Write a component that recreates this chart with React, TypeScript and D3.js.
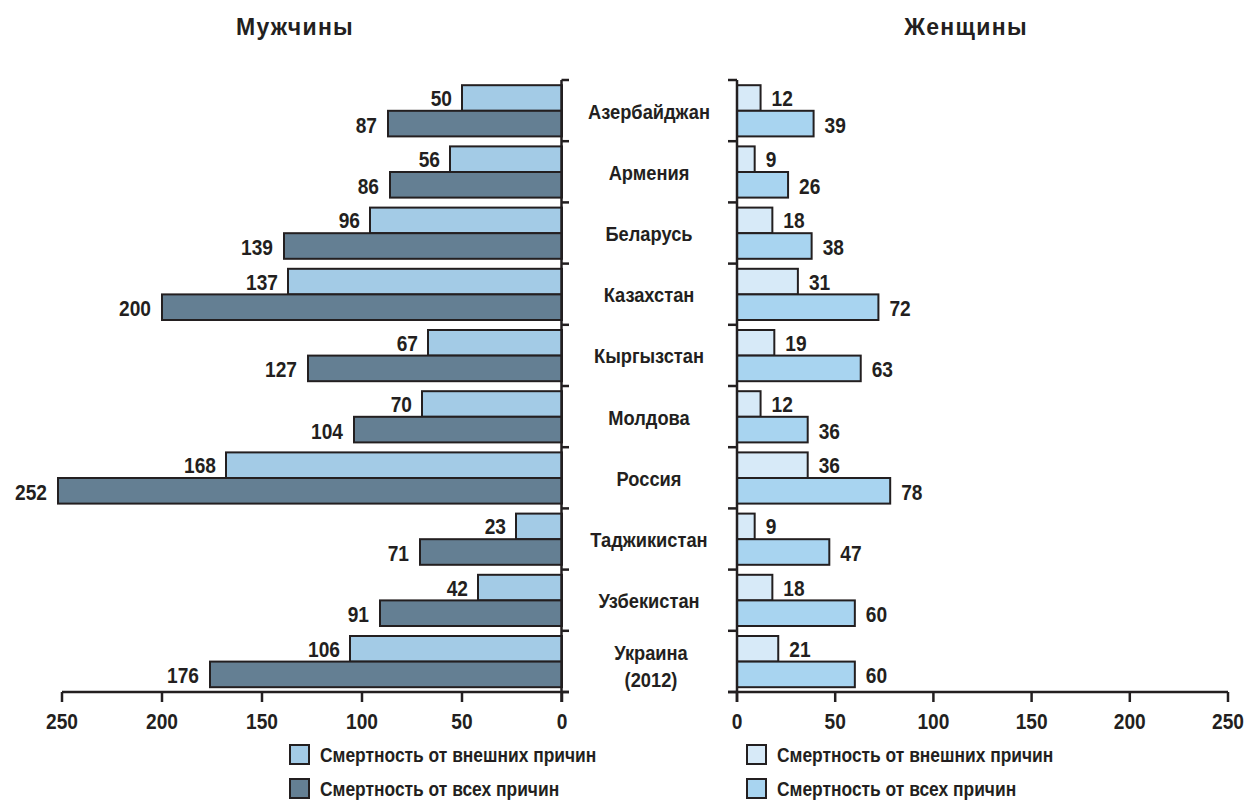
import React from "react";
import * as d3 from "d3";

const countries = [
  "Азербайджан",
  "Армения",
  "Беларусь",
  "Казахстан",
  "Кыргызстан",
  "Молдова",
  "Россия",
  "Таджикистан",
  "Узбекистан",
  "Украина|(2012)",
];
const menExternal = [50, 56, 96, 137, 67, 70, 168, 23, 42, 106];
const menAll = [87, 86, 139, 200, 127, 104, 252, 71, 91, 176];
const womenExternal = [12, 9, 18, 31, 19, 12, 36, 9, 18, 21];
const womenAll = [39, 26, 38, 72, 63, 36, 78, 47, 60, 60];
const ticks = [0, 50, 100, 150, 200, 250];
const titles = ["Мужчины", "Женщины"];
const legendLabels = ["Смертность от внешних причин", "Смертность от всех причин"];

const W = 1245;
const H = 803;
const FONT = "'Liberation Sans', Arial, Helvetica, sans-serif";
const TXT = "#231f20";
const STROKE = "#231f20";
const SX = 0.87;

const menLight = "#a3cbe6";
const menDark = "#647f93";
const womenLight = "#d7eaf8";
const womenDark = "#a8d4f0";

type NProps = {
  x: number;
  y: number;
  size: number;
  anchor?: "start" | "middle" | "end";
  children: React.ReactNode;
};

function NText({ x, y, size, anchor = "start", children }: NProps) {
  return (
    <text
      transform={`translate(${x},${y}) scale(${SX},1)`}
      textAnchor={anchor}
      fontFamily={FONT}
      fontWeight={700}
      fontSize={size}
      fill={TXT}
    >
      {children}
    </text>
  );
}

export default function App() {
  const y = d3.scaleBand<string>().domain(countries).range([80, 692]);
  const bw = y.bandwidth();
  const barH = 25.6;
  const pad = 5.2;
  const xM = d3.scaleLinear().domain([0, 250]).range([562, 62]);
  const xW = d3.scaleLinear().domain([0, 250]).range([737, 1228]);
  const axisY = 692;
  const axisM = 561.5;
  const axisW = 737;
  const boundaries = d3.range(countries.length + 1).map((i) => 80 + i * bw);
  const VS = 22;

  return (
    <svg
      width={W}
      height={H}
      style={{ position: "absolute", left: 0, top: 0, background: "#fff" }}
    >
      <rect x={0} y={0} width={W} height={H} fill="#fff" />
      {/* titles */}
      <text x={295} y={35} textAnchor="middle" fontFamily={FONT} fontWeight={700} fontSize={23} letterSpacing={1.3} fill={TXT}>
        {titles[0]}
      </text>
      <text x={966} y={35} textAnchor="middle" fontFamily={FONT} fontWeight={700} fontSize={23} letterSpacing={1.3} fill={TXT}>
        {titles[1]}
      </text>

      {/* men bars */}
      {countries.map((c, i) => {
        const y0 = (y(c) as number) + pad;
        return (
          <g key={"m" + c}>
            <rect x={xM(menExternal[i])} y={y0} width={xM(0) - xM(menExternal[i])} height={barH} fill={menLight} stroke={STROKE} strokeWidth={2} />
            <rect x={xM(menAll[i])} y={y0 + barH} width={xM(0) - xM(menAll[i])} height={barH} fill={menDark} stroke={STROKE} strokeWidth={2} />
            <NText x={xM(menExternal[i]) - 10} y={y0 + barH / 2 + 8} size={VS} anchor="end">
              {menExternal[i]}
            </NText>
            <NText x={xM(menAll[i]) - 11} y={y0 + barH * 1.5 + 9} size={VS} anchor="end">
              {menAll[i]}
            </NText>
          </g>
        );
      })}

      {/* women bars */}
      {countries.map((c, i) => {
        const y0 = (y(c) as number) + pad;
        return (
          <g key={"w" + c}>
            <rect x={xW(0)} y={y0} width={xW(womenExternal[i]) - xW(0)} height={barH} fill={womenLight} stroke={STROKE} strokeWidth={2} />
            <rect x={xW(0)} y={y0 + barH} width={xW(womenAll[i]) - xW(0)} height={barH} fill={womenDark} stroke={STROKE} strokeWidth={2} />
            <NText x={xW(womenExternal[i]) + 11} y={y0 + barH / 2 + 8} size={VS}>
              {womenExternal[i]}
            </NText>
            <NText x={xW(womenAll[i]) + 11} y={y0 + barH * 1.5 + 9} size={VS}>
              {womenAll[i]}
            </NText>
          </g>
        );
      })}

      {/* country labels */}
      {countries.map((c) => {
        const cy = (y(c) as number) + bw / 2;
        const parts = c.split("|");
        return parts.length === 1 ? (
          <NText key={"c" + c} x={649} y={cy + 8} size={21} anchor="middle">
            {parts[0]}
          </NText>
        ) : (
          <g key={"c" + c}>
            <NText x={651} y={cy - 1} size={21} anchor="middle">
              {parts[0]}
            </NText>
            <NText x={651} y={cy + 26} size={21} anchor="middle">
              {parts[1]}
            </NText>
          </g>
        );
      })}

      {/* men axes */}
      <g stroke={STROKE} strokeWidth={2.5} fill="none">
        <line x1={axisM} y1={80} x2={axisM} y2={axisY + 10} />
        {boundaries.map((b, i) => (
          <line key={"mb" + i} x1={axisM} y1={b} x2={569} y2={b} />
        ))}
        <line x1={xM(250)} y1={axisY} x2={569} y2={axisY} />
        {ticks.map((t) => (
          <line key={"mt" + t} x1={xM(t)} y1={axisY} x2={xM(t)} y2={axisY + 10} />
        ))}
      </g>
      {ticks.map((t) => (
        <NText key={"mtl" + t} x={xM(t)} y={729} size={VS} anchor="middle">
          {t}
        </NText>
      ))}

      {/* women axes */}
      <g stroke={STROKE} strokeWidth={2.5} fill="none">
        <line x1={axisW} y1={80} x2={axisW} y2={axisY + 10} />
        {boundaries.map((b, i) => (
          <line key={"wb" + i} x1={728} y1={b} x2={axisW} y2={b} />
        ))}
        <line x1={728} y1={axisY} x2={xW(250)} y2={axisY} />
        {ticks.map((t) => (
          <line key={"wt" + t} x1={xW(t)} y1={axisY} x2={xW(t)} y2={axisY + 10} />
        ))}
      </g>
      {ticks.map((t) => (
        <NText key={"wtl" + t} x={xW(t)} y={729} size={VS} anchor="middle">
          {t}
        </NText>
      ))}

      {/* legends */}
      {[
        { x: 290, colors: [menLight, menDark] },
        { x: 747, colors: [womenLight, womenDark] },
      ].map((lg, li) => (
        <g key={"lg" + li}>
          {legendLabels.map((lab, k) => (
            <g key={lab}>
              <rect x={lg.x} y={745 + k * 34} width={19} height={19} fill={lg.colors[k]} stroke={STROKE} strokeWidth={2} />
              <NText x={lg.x + 30} y={762 + k * 34} size={20}>
                {lab}
              </NText>
            </g>
          ))}
        </g>
      ))}
    </svg>
  );
}
